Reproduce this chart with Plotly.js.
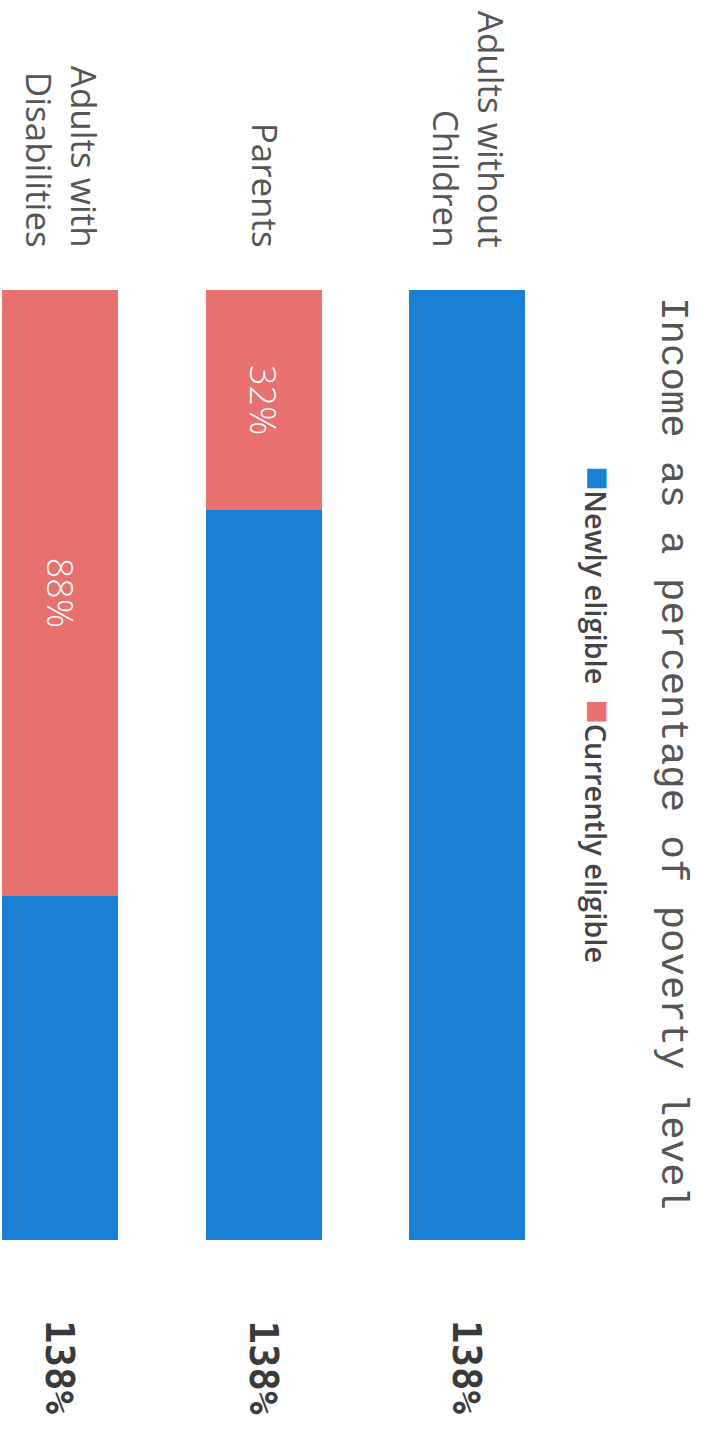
<!DOCTYPE html>
<html>
<head>
<meta charset="utf-8">
<script src="https://cdn.plot.ly/plotly-3.0.1.min.js"></script>
<style>html,body{margin:0;padding:0;background:#fff;}#chart{width:701px;height:1440px;}</style>
</head>
<body>
<div id="chart"></div>
<script>
// Data (categories listed left-to-right as drawn)
const categories = ["Adults with<br>Disabilities", "Parents", "Adults without<br>Children"];
const currentlyEligible = [88, 32, 0];
const totalEligible = [138, 138, 138];
const newlyEligible = totalEligible.map((t, i) => t - currentlyEligible[i]);
const currentLabels = currentlyEligible.map(v => v > 0 ? v + "%" : "");
const totalLabels = totalEligible.map(v => v + "%");
const seriesNames = ["Newly eligible", "Currently eligible"];
const titleText = "Income as a percentage of poverty level";

const BLUE = "#1a80d6";
const RED = "#e8716f";

const traces = [
  {
    type: "bar", name: seriesNames[1], x: categories, y: currentlyEligible,
    marker: {color: RED}, text: currentLabels, textposition: "inside",
    insidetextanchor: "middle", textangle: 90,
    textfont: {family: "Open Sans", size: 36, color: "#ffffff", weight: 300},
    hoverinfo: "skip"
  },
  {
    type: "bar", name: seriesNames[0], x: categories, y: newlyEligible,
    marker: {color: BLUE}, hoverinfo: "skip", textposition: "none"
  }
];

const annotations = categories.map((c, i) => ({
  x: c, y: totalEligible[i], xref: "x", yref: "y",
  text: totalLabels[i], showarrow: false, textangle: 90,
  yanchor: "top", xanchor: "center", yshift: -78,
  font: {family: "DejaVu Sans Mono", size: 39, color: "#3a3a3a", weight: "bold"}
}));

annotations.push({
  xref: "paper", yref: "paper", x: 1.179, y: 0.995, xanchor: "center", yanchor: "top",
  text: titleText, showarrow: false, textangle: 90,
  font: {family: "Liberation Mono", size: 39, color: "#555555"}
});

annotations.push({
  xref: "paper", yref: "paper", x: 1.053, y: 0.817, xanchor: "center", yanchor: "top",
  text: "<span style='color:" + BLUE + ";font-size:40px'>■</span>" + seriesNames[0] +
        "  <span style='color:" + RED + ";font-size:40px'>■</span>" + seriesNames[1],
  showarrow: false, textangle: 90,
  font: {family: "Open Sans", size: 29, color: "#444444", weight: 600}
});

const layout = {
  width: 701, height: 1440,
  margin: {l: 0, r: 131, t: 290, b: 200, pad: 0},
  paper_bgcolor: "#ffffff", plot_bgcolor: "#ffffff",
  barmode: "stack", bargap: 0.43, showlegend: false,
  xaxis: {
    type: "category", categoryorder: "array", categoryarray: categories,
    range: [-0.295, 2.506], side: "top", tickangle: 90,
    ticklabelstandoff: 36, showgrid: false, zeroline: false, showline: false, ticks: "",
    tickfont: {family: "Open Sans", size: 35, color: "#555555"}, fixedrange: true
  },
  yaxis: {range: [138, 0], visible: false, fixedrange: true},
  annotations: annotations
};

Plotly.newPlot("chart", traces, layout, {displayModeBar: false, staticPlot: true});
</script>
</body>
</html>
